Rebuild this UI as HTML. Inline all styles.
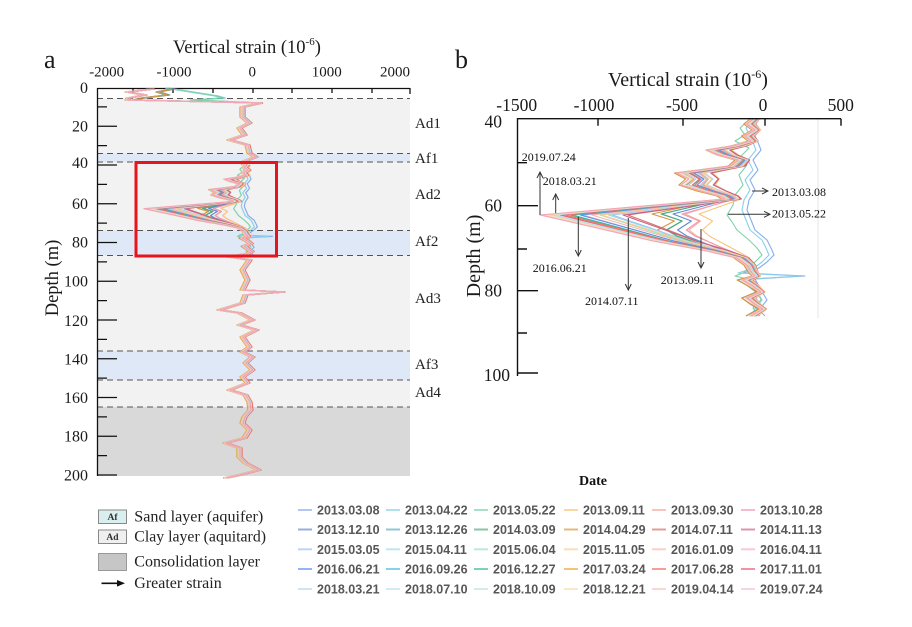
<!DOCTYPE html>
<html><head><meta charset="utf-8"><style>html,body{margin:0;padding:0;background:#fff}svg{display:block}</style></head>
<body>
<svg width="912" height="627" viewBox="0 0 912 627" xmlns="http://www.w3.org/2000/svg" xmlns:xlink="http://www.w3.org/1999/xlink" font-family="'Liberation Serif', serif" fill="#1a1a1a">
<defs>
<path id="L" fill="none" vector-effect="non-scaling-stroke" d="M-12,119 L-18,124 L-10,130 L-20,136 L-14,141 L-32,146 L-58,150 L-46,155 L-27,160 L-34,166 L-88,173 L-76,179 L-84,185 L-64,191 L-45,196 L-40,199 L-225,215 L-168,228 L-112,241 L-58,251 L-28,258 L-18,265 L-14,272 L-10,276 L-22,280 L-12,286 L-4,292 L-18,298 L-10,304 L-2,309 L-14,316"/>
<path id="M" fill="none" vector-effect="non-scaling-stroke" d="M-12,119 L-18,124 L-10,130 L-20,136 L-14,141 L-30,146 L-52,150 L-42,155 L-26,160 L-32,166 L-80,173 L-70,179 L-76,185 L-60,191 L-42,196 L-38,199 L-100,214 L-80,221 L-95,230 L-85,236 L-55,247 L-28,257 L-18,265 L-14,272 L-10,276 L-24,280 L-14,286 L-6,292 L-20,298 L-12,304 L-4,309 L-16,316"/>
<path id="Eg" fill="none" vector-effect="non-scaling-stroke" d="M-15,119 L-25,128 L-20,135 L-30,141 L-16,148 L-24,156 L-18,165 L-26,175 L-22,185 L-30,195 L-32,205 L-38,215 L-33,222 L-28,230 L-16,240 L-8,248 L-3,255 L-10,262 L-16,268 L-22,273 L-30,276 L-14,280 L-8,290 L-4,300 L-12,308 L-6,316"/>
<path id="Eb" fill="none" vector-effect="non-scaling-stroke" d="M-8,119 L-14,128 L-8,140 L-4,150 L-12,160 L-7,170 L-15,180 L-10,190 L-16,200 L-18,210 L-14,220 L-10,230 L2,240 L6,248 L9,255 L2,262 L-6,268 L-22,273 L40,276 L-10,279 L-4,290 L2,300 L-6,310 L0,316"/>
<path id="C" fill="none" d="M8,103 L-10,107 L-10,117 L-3,123 L-13,128 L-8,135 L-23,140 L-5,145 L-3,153 L3,157 L-10,162 L-8,165 M-8,254 L-23,257 L-3,260 L-10,270 L-5,280 L-10,290 L30,292 L-7,295 L-10,303 L-33,310 L-13,313 L0,320 L-13,325 L4,330 L-10,337 L-3,347 L-10,352 L0,357 L-7,363 L0,370 L-10,377 L-5,383 L-23,390 L-7,395 L-3,402 L-2,410 L-8,417 L-10,423 L-3,430 L-8,438 L-27,443 L-13,448 L-13,457 L-7,463 L6,470 L-13,475 L-27,478"/>
<path id="TL" fill="none" d="M-100,89 L-125,92 L-108,95 L-124,98 L-125,100 L8,103"/>
<path id="TM" fill="none" d="M-80,89 L-95,92 L-85,95 L-110,98 L-118,100 L8,103"/>
<path id="TE" fill="none" d="M-85,88 L-60,92 L-35,96 L-28,98 L-60,100 L8,103"/>
<marker id="ah" markerWidth="8" markerHeight="8" refX="7" refY="4" orient="auto" markerUnits="userSpaceOnUse"><path d="M1,1 L7,4 L1,7" fill="none" stroke="#333" stroke-width="1"/></marker>
</defs>

<!-- ================= PANEL A ================= -->
<text x="44" y="68" font-size="26">a</text>
<text x="173" y="53" font-size="18.5">Vertical strain (10<tspan font-size="11" dy="-8">-6</tspan><tspan dy="8">)</tspan></text>
<g font-size="15" text-anchor="middle">
<text x="106.7" y="76.5">-2000</text><text x="174" y="76.5">-1000</text><text x="252.3" y="76.5">0</text><text x="326.7" y="76.5">1000</text><text x="395" y="76.5">2000</text>
</g>
<!-- bands -->
<rect x="97" y="98.5" width="313" height="55" fill="#f2f2f2"/>
<rect x="97" y="153.5" width="313" height="8.5" fill="#dee8f7"/>
<rect x="97" y="162" width="313" height="68.5" fill="#f2f2f2"/>
<rect x="97" y="230.5" width="313" height="25" fill="#dee8f7"/>
<rect x="97" y="255.5" width="313" height="95.5" fill="#f2f2f2"/>
<rect x="97" y="351" width="313" height="29" fill="#dee8f7"/>
<rect x="97" y="380" width="313" height="27" fill="#f2f2f2"/>
<rect x="97" y="407" width="313" height="69" fill="#d9d9d9"/>
<g stroke="#555" stroke-width="1" stroke-dasharray="6 4" fill="none">
<path d="M97,98.5H410 M97,153.5H410 M97,162H410 M97,230.5H410 M97,255.5H410 M97,351H410 M97,380H410 M97,407H410"/>
</g>
<g font-size="15" fill="#222">
<text x="415" y="128">Ad1</text><text x="415" y="163">Af1</text><text x="415" y="199">Ad2</text><text x="415" y="246">Af2</text><text x="415" y="303">Ad3</text><text x="415" y="369">Af3</text><text x="415" y="397">Ad4</text>
</g>
<!-- axes a -->
<g stroke="#111" stroke-width="1.3" fill="none">
<path d="M97.5,88 V476 M97,88.5 H410"/>
<path d="M133,88v5 M173,88v5 M213,88v5 M253,88v5 M292,88v5 M332,88v5 M372,88v5 M410,88v6"/>
<path d="M97,126.25h20 M97,165h20 M97,203.75h20 M97,242.5h20 M97,281.25h20 M97,320h20 M97,358.75h20 M97,397.5h20 M97,436.25h20 M97,475h20"/>
<path d="M97,106.9h10 M97,145.6h10 M97,184.4h10 M97,223.1h10 M97,261.9h10 M97,300.6h10 M97,339.4h10 M97,378.1h10 M97,416.9h10 M97,455.6h10"/>
</g>
<g font-size="16" text-anchor="end">
<text x="88" y="93">0</text><text x="88" y="131.5">20</text><text x="88" y="168">40</text><text x="88" y="209">60</text><text x="88" y="247.5">80</text><text x="88" y="286.5">100</text><text x="88" y="326">120</text><text x="88" y="364.5">140</text><text x="88" y="403">160</text><text x="88" y="441.5">180</text><text x="88" y="480.5">200</text>
</g>
<text transform="translate(58,278) rotate(-90)" font-size="18.5" text-anchor="middle">Depth (m)</text>

<!-- curves panel a -->
<g fill="none" stroke-width="1.2" stroke-linejoin="round" opacity="0.88">
<g stroke="#79a5ea"><use href="#TE" transform="translate(253,0)"/><use href="#C" transform="translate(253,0)"/><use href="#Eb" transform="translate(253,111.15) scale(0.485,0.4537)"/></g>
<g stroke="#7ccbe9"><use href="#TE" transform="translate(250,0)"/><use href="#C" transform="translate(250,0)"/><use href="#Eb" transform="translate(250,111.15) scale(0.485,0.4537)"/></g>
<g stroke="#6fcf9f"><use href="#TE" transform="translate(252,0)"/><use href="#C" transform="translate(252,0)"/><use href="#Eg" transform="translate(252,111.15) scale(0.485,0.4537)"/></g>
<g stroke="#f9bd6d"><use href="#TM" transform="translate(254,0)"/><use href="#C" transform="translate(254,0)"/><use href="#M" transform="translate(254,111.15) scale(0.33,0.4537)"/></g>
<g stroke="#f4a094"><use href="#TM" transform="translate(251,0)"/><use href="#C" transform="translate(251,0)"/><use href="#M" transform="translate(251,111.15) scale(0.378,0.4537)"/></g>
<g stroke="#f08fa8"><use href="#TM" transform="translate(255,0)"/><use href="#C" transform="translate(255,0)"/><use href="#M" transform="translate(255,111.15) scale(0.417,0.4537)"/></g>
<g stroke="#4d7dcc"><use href="#TM" transform="translate(253,0)"/><use href="#C" transform="translate(253,0)"/><use href="#M" transform="translate(253,111.15) scale(0.446,0.4537)"/></g>
<g stroke="#4b9fbf"><use href="#TM" transform="translate(251,0)"/><use href="#C" transform="translate(251,0)"/><use href="#M" transform="translate(251,111.15) scale(0.485,0.4537)"/></g>
<g stroke="#3d9f6c"><use href="#TM" transform="translate(254,0)"/><use href="#C" transform="translate(254,0)"/><use href="#M" transform="translate(254,111.15) scale(0.514,0.4537)"/></g>
<g stroke="#d48a2a"><use href="#TM" transform="translate(252,0)"/><use href="#C" transform="translate(252,0)"/><use href="#M" transform="translate(252,111.15) scale(0.543,0.4537)"/></g>
<g stroke="#cf5f55"><use href="#TL" transform="translate(253,0)"/><use href="#C" transform="translate(253,0)"/><use href="#L" transform="translate(253,111.15) scale(0.296,0.4537)"/></g>
<g stroke="#c6537a"><use href="#TL" transform="translate(254,0)"/><use href="#C" transform="translate(254,0)"/><use href="#L" transform="translate(254,111.15) scale(0.31,0.4537)"/></g>
<g stroke="#93b8ef"><use href="#TL" transform="translate(251,0)"/><use href="#C" transform="translate(251,0)"/><use href="#L" transform="translate(251,111.15) scale(0.325,0.4537)"/></g>
<g stroke="#93d5ef"><use href="#TL" transform="translate(254,0)"/><use href="#C" transform="translate(254,0)"/><use href="#L" transform="translate(254,111.15) scale(0.34,0.4537)"/></g>
<g stroke="#92dcb6"><use href="#TL" transform="translate(250,0)"/><use href="#C" transform="translate(250,0)"/><use href="#L" transform="translate(250,111.15) scale(0.349,0.4537)"/></g>
<g stroke="#fbc88a"><use href="#TL" transform="translate(255,0)"/><use href="#C" transform="translate(255,0)"/><use href="#L" transform="translate(255,111.15) scale(0.359,0.4537)"/></g>
<g stroke="#f6b0a6"><use href="#TL" transform="translate(253,0)"/><use href="#C" transform="translate(253,0)"/><use href="#L" transform="translate(253,111.15) scale(0.373,0.4537)"/></g>
<g stroke="#f4a6b9"><use href="#TL" transform="translate(251,0)"/><use href="#C" transform="translate(251,0)"/><use href="#L" transform="translate(251,111.15) scale(0.388,0.4537)"/></g>
<g stroke="#4a87e8"><use href="#TL" transform="translate(254,0)"/><use href="#C" transform="translate(254,0)"/><use href="#L" transform="translate(254,111.15) scale(0.403,0.4537)"/></g>
<g stroke="#36b4e6"><use href="#TL" transform="translate(252,0)"/><use href="#C" transform="translate(252,0)"/><use href="#L" transform="translate(252,111.15) scale(0.412,0.4537)"/></g>
<g stroke="#2fb27a"><use href="#TL" transform="translate(254,0)"/><use href="#C" transform="translate(254,0)"/><use href="#L" transform="translate(254,111.15) scale(0.422,0.4537)"/></g>
<g stroke="#f7981c"><use href="#TL" transform="translate(250,0)"/><use href="#C" transform="translate(250,0)"/><use href="#L" transform="translate(250,111.15) scale(0.432,0.4537)"/></g>
<g stroke="#f2604f"><use href="#TL" transform="translate(255,0)"/><use href="#C" transform="translate(255,0)"/><use href="#L" transform="translate(255,111.15) scale(0.436,0.4537)"/></g>
<g stroke="#eb4a6a"><use href="#TL" transform="translate(253,0)"/><use href="#C" transform="translate(253,0)"/><use href="#L" transform="translate(253,111.15) scale(0.441,0.4537)"/></g>
<g stroke="#b6cff3"><use href="#TL" transform="translate(251,0)"/><use href="#C" transform="translate(251,0)"/><use href="#L" transform="translate(251,111.15) scale(0.451,0.4537)"/></g>
<g stroke="#b2def2"><use href="#TL" transform="translate(254,0)"/><use href="#C" transform="translate(254,0)"/><use href="#L" transform="translate(254,111.15) scale(0.456,0.4537)"/></g>
<g stroke="#b3e6cb"><use href="#TL" transform="translate(252,0)"/><use href="#C" transform="translate(252,0)"/><use href="#L" transform="translate(252,111.15) scale(0.461,0.4537)"/></g>
<g stroke="#fcd6a6"><use href="#TL" transform="translate(253,0)"/><use href="#C" transform="translate(253,0)"/><use href="#L" transform="translate(253,111.15) scale(0.47,0.4537)"/></g>
<g stroke="#f8beb3"><use href="#TL" transform="translate(251,0)"/><use href="#C" transform="translate(251,0)"/><use href="#L" transform="translate(251,111.15) scale(0.475,0.4537)"/></g>
<g stroke="#f29aae"><use href="#TL" transform="translate(253,0)"/><use href="#C" transform="translate(253,0)"/><use href="#L" transform="translate(253,111.15) scale(0.485,0.4537)"/></g>
</g>
<rect x="136" y="162.5" width="140.5" height="93.5" fill="none" stroke="#e8141c" stroke-width="3"/>

<!-- ================= PANEL B ================= -->
<text x="455" y="68" font-size="26">b</text>
<text x="608" y="86" font-size="20">Vertical strain (10<tspan font-size="12" dy="-8">-6</tspan><tspan dy="8">)</tspan></text>
<g font-size="17.5" text-anchor="middle">
<text x="516.7" y="111">-1500</text><text x="594" y="111">-1000</text><text x="682" y="111">-500</text><text x="763" y="111">0</text><text x="840.7" y="111">500</text>
</g>
<g font-size="17.5" text-anchor="end">
<text x="502" y="127.5">40</text><text x="502" y="211.5">60</text><text x="502" y="296.5">80</text><text x="510" y="381">100</text>
</g>
<text transform="translate(480,256) rotate(-90)" font-size="20" text-anchor="middle">Depth (m)</text>
<path d="M818,118 V318" stroke="#e6e6e6" stroke-width="1"/>

<g fill="none" stroke-width="1.1" stroke-linejoin="round" opacity="0.9">
<use href="#Eb" stroke="#79a5ea" transform="translate(765,0)"/>
<use href="#Eb" stroke="#7ccbe9" transform="translate(760,0)"/>
<use href="#Eg" stroke="#6fcf9f" transform="translate(765,0)"/>
<use href="#M" stroke="#f9bd6d" transform="translate(767,0) scale(0.68,1)"/>
<use href="#M" stroke="#f4a094" transform="translate(763,0) scale(0.78,1)"/>
<use href="#M" stroke="#f08fa8" transform="translate(768,0) scale(0.86,1)"/>
<use href="#M" stroke="#4d7dcc" transform="translate(765,0) scale(0.92,1)"/>
<use href="#M" stroke="#4b9fbf" transform="translate(762,0) scale(1.0,1)"/>
<use href="#M" stroke="#3d9f6c" transform="translate(767,0) scale(1.06,1)"/>
<use href="#M" stroke="#d48a2a" transform="translate(764,0) scale(1.12,1)"/>
<use href="#L" stroke="#cf5f55" transform="translate(765,0) scale(0.61,1)"/>
<use href="#L" stroke="#c6537a" transform="translate(767,0) scale(0.64,1)"/>
<use href="#L" stroke="#93b8ef" transform="translate(763,0) scale(0.67,1)"/>
<use href="#L" stroke="#93d5ef" transform="translate(766,0) scale(0.70,1)"/>
<use href="#L" stroke="#92dcb6" transform="translate(762,0) scale(0.72,1)"/>
<use href="#L" stroke="#fbc88a" transform="translate(768,0) scale(0.74,1)"/>
<use href="#L" stroke="#f6b0a6" transform="translate(765,0) scale(0.77,1)"/>
<use href="#L" stroke="#f4a6b9" transform="translate(763,0) scale(0.80,1)"/>
<use href="#L" stroke="#4a87e8" transform="translate(767,0) scale(0.83,1)"/>
<use href="#L" stroke="#36b4e6" transform="translate(764,0) scale(0.85,1)"/>
<use href="#L" stroke="#2fb27a" transform="translate(766,0) scale(0.87,1)"/>
<use href="#L" stroke="#f7981c" transform="translate(762,0) scale(0.89,1)"/>
<use href="#L" stroke="#f2604f" transform="translate(768,0) scale(0.90,1)"/>
<use href="#L" stroke="#eb4a6a" transform="translate(765,0) scale(0.91,1)"/>
<use href="#L" stroke="#b6cff3" transform="translate(763,0) scale(0.93,1)"/>
<use href="#L" stroke="#b2def2" transform="translate(767,0) scale(0.94,1)"/>
<use href="#L" stroke="#b3e6cb" transform="translate(764,0) scale(0.95,1)"/>
<use href="#L" stroke="#fcd6a6" transform="translate(766,0) scale(0.97,1)"/>
<use href="#L" stroke="#f8beb3" transform="translate(763,0) scale(0.98,1)"/>
<use href="#L" stroke="#f29aae" transform="translate(765,0) scale(1.0,1)"/>
</g>

<!-- axes b -->
<g stroke="#111" stroke-width="1.4" fill="none">
<path d="M517.5,118 V376 M517,118.7 H841"/>
<path d="M598,118.7v7 M683,118.7v7 M765,118.7v7 M841,118.7v7"/>
<path d="M517,162.7h10 M517,205.7h21 M517,249h10 M517,290.7h21 M517,333h10 M517,373h21"/>
</g>

<!-- annotations -->
<g stroke="#333" stroke-width="1" fill="none" marker-end="url(#ah)">
<path d="M540,215 V172"/>
<path d="M555.7,213 V194"/>
<path d="M578.3,216.7 V256"/>
<path d="M628.3,218 V290"/>
<path d="M701,229 V268"/>
<path d="M752,191 H768"/>
<path d="M728,214.3 H770"/>
</g>
<g font-size="12" fill="#111">
<text x="521.7" y="161">2019.07.24</text>
<text x="542.7" y="185">2018.03.21</text>
<text x="532.7" y="272">2016.06.21</text>
<text x="585" y="305">2014.07.11</text>
<text x="660.7" y="284">2013.09.11</text>
<text x="772" y="196">2013.03.08</text>
<text x="772" y="217.5">2013.05.22</text>
</g>
<text x="579" y="485" font-size="14" font-weight="bold" fill="#111">Date</text>

<!-- left legend -->
<rect x="98.5" y="510" width="28" height="13.5" fill="#d9eeee" stroke="#888" stroke-width="1"/>
<text x="112.5" y="520" font-size="9.5" font-weight="bold" text-anchor="middle" fill="#333">Af</text>
<rect x="98.5" y="530" width="28" height="13.5" fill="#efefef" stroke="#888" stroke-width="1"/>
<text x="112.5" y="540" font-size="9.5" font-weight="bold" text-anchor="middle" fill="#333">Ad</text>
<rect x="98.5" y="553.5" width="28" height="17" fill="#c6c6c6" stroke="#999" stroke-width="1"/>
<path d="M101.5,583.3 H118" stroke="#111" stroke-width="1.6"/>
<polygon points="117,580 125,583.3 117,586.6" fill="#111"/>
<g font-size="15.5" fill="#222">
<text x="134.3" y="521.5" textLength="129" lengthAdjust="spacingAndGlyphs">Sand layer (aquifer)</text>
<text x="134.3" y="541.5" textLength="131.7" lengthAdjust="spacingAndGlyphs">Clay layer (aquitard)</text>
<text x="134.3" y="566.5" textLength="125.7" lengthAdjust="spacingAndGlyphs">Consolidation layer</text>
<text x="134.3" y="588" textLength="87.4" lengthAdjust="spacingAndGlyphs">Greater strain</text>
</g>

<!-- date legend -->
<g stroke-width="2" opacity="0.6">
<path d="M298,510h14" stroke="#79a5ea"/><path d="M386,510h14" stroke="#7ccbe9"/><path d="M474,510h14" stroke="#6fcf9f"/><path d="M564,510h14" stroke="#f9bd6d"/><path d="M652,510h14" stroke="#f4a094"/><path d="M741,510h14" stroke="#f08fa8"/>
<path d="M298,529.5h14" stroke="#4d7dcc"/><path d="M386,529.5h14" stroke="#4b9fbf"/><path d="M474,529.5h14" stroke="#3d9f6c"/><path d="M564,529.5h14" stroke="#d48a2a"/><path d="M652,529.5h14" stroke="#cf5f55"/><path d="M741,529.5h14" stroke="#c6537a"/>
<path d="M298,549.3h14" stroke="#93b8ef"/><path d="M386,549.3h14" stroke="#93d5ef"/><path d="M474,549.3h14" stroke="#92dcb6"/><path d="M564,549.3h14" stroke="#fbc88a"/><path d="M652,549.3h14" stroke="#f6b0a6"/><path d="M741,549.3h14" stroke="#f4a6b9"/>
<path d="M298,569h14" stroke="#4a87e8"/><path d="M386,569h14" stroke="#36b4e6"/><path d="M474,569h14" stroke="#2fb27a"/><path d="M564,569h14" stroke="#f7981c"/><path d="M652,569h14" stroke="#f2604f"/><path d="M741,569h14" stroke="#eb4a6a"/>
<path d="M298,589h14" stroke="#b6cff3"/><path d="M386,589h14" stroke="#b2def2"/><path d="M474,589h14" stroke="#b3e6cb"/><path d="M564,589h14" stroke="#fcd6a6"/><path d="M652,589h14" stroke="#f8beb3"/><path d="M741,589h14" stroke="#f6b9c8"/>
</g>
<g font-family="'Liberation Sans', sans-serif" font-size="12.5" font-weight="bold" fill="#575757">
<text x="317" y="514.5">2013.03.08</text><text x="405" y="514.5">2013.04.22</text><text x="493" y="514.5">2013.05.22</text><text x="583" y="514.5">2013.09.11</text><text x="671" y="514.5">2013.09.30</text><text x="760" y="514.5">2013.10.28</text>
<text x="317" y="534">2013.12.10</text><text x="405" y="534">2013.12.26</text><text x="493" y="534">2014.03.09</text><text x="583" y="534">2014.04.29</text><text x="671" y="534">2014.07.11</text><text x="760" y="534">2014.11.13</text>
<text x="317" y="553.8">2015.03.05</text><text x="405" y="553.8">2015.04.11</text><text x="493" y="553.8">2015.06.04</text><text x="583" y="553.8">2015.11.05</text><text x="671" y="553.8">2016.01.09</text><text x="760" y="553.8">2016.04.11</text>
<text x="317" y="573.5">2016.06.21</text><text x="405" y="573.5">2016.09.26</text><text x="493" y="573.5">2016.12.27</text><text x="583" y="573.5">2017.03.24</text><text x="671" y="573.5">2017.06.28</text><text x="760" y="573.5">2017.11.01</text>
<text x="317" y="593.5">2018.03.21</text><text x="405" y="593.5">2018.07.10</text><text x="493" y="593.5">2018.10.09</text><text x="583" y="593.5">2018.12.21</text><text x="671" y="593.5">2019.04.14</text><text x="760" y="593.5">2019.07.24</text>
</g>
</svg>
</body></html>
